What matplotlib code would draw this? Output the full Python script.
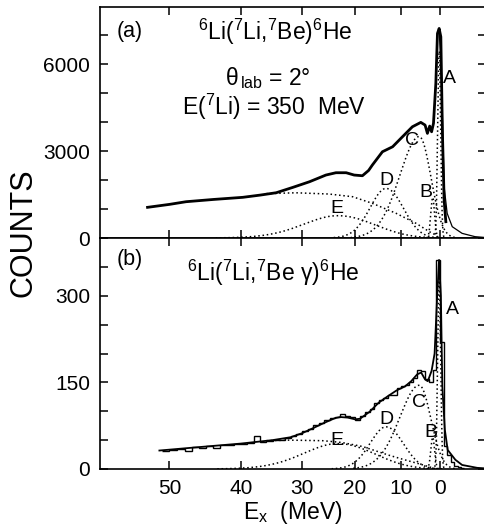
import numpy as np
import matplotlib
matplotlib.use("Agg")
import matplotlib.pyplot as plt
from matplotlib.ticker import MultipleLocator

plt.rcParams['font.family'] = ['Liberation Sans', 'DejaVu Sans']
plt.rcParams['mathtext.fontset'] = 'custom'
plt.rcParams['mathtext.rm'] = 'Liberation Sans'
plt.rcParams['mathtext.it'] = 'Liberation Sans:italic'
plt.rcParams['mathtext.bf'] = 'Liberation Sans:bold'

# ---- panel (a): inclusive spectrum (thick line)
top_E = [52.8, 50.0, 47.8, 44.0, 39.7, 37.0, 34.4, 31.6, 28.7, 25.7, 23.8, 21.8, 20.2,
         18.5, 17.2, 16.4, 14.2, 11.9, 9.6, 7.2, 5.1, 4.0, 3.4, 2.8, 2.3, 1.8, 1.17,
         0.73, 0.27, -0.19, -0.63, -1.1, -1.58]
top_counts = [1058, 1160, 1252, 1330, 1403, 1480, 1562, 1748, 1941, 2172, 2252, 2252,
              2172, 2148, 2330, 2517, 2976, 3148, 3493, 3838, 3989, 3896, 3610, 3862,
              3665, 3955, 5334, 7058, 7230, 6941, 3620, 1310, 562]

# fit curve, visible as thin line on the low-energy tail
top_fit_E = [0.27, -0.3, -0.7, -1.1, -1.95, -3.4, -6.3, -10.3, -13.9]
top_fit_counts = [7100, 6000, 3800, 1770, 850, 390, 160, 46, 15]

# broad background component (dotted)
top_bg_E = [36.0, 31.1, 25.1, 20.5, 16.4, 11.1, 6.3, 2.9, 1.17, 0.5]
top_bg_counts = [1530, 1560, 1517, 1424, 1196, 852, 507, 218, 103, 0]

# ---- panel (b): coincidence spectrum (histogram)
hist_edges = np.arange(51, -8, -1)
hist_counts = [32, 33, 34, 31, 38, 36, 39, 37, 41, 42, 43, 44, 45, 57, 47, 48, 50, 51,
               53, 58, 61, 65, 70, 76, 80, 84, 88, 90, 96, 91, 90, 84, 91, 98, 104, 114,
               120, 123, 128, 129, 140, 143, 146, 150, 158, 172, 170, 156, 150, 172, 362,
               220, 40, 24, 12, 6, 3, 1]

bot_fit_E = [51.3, 45, 40, 35, 32, 30, 28, 26, 24, 23, 21.5, 20, 19, 17, 15, 13, 11, 9,
             7.5, 6, 5, 4, 3.3, 2.3, 1.5, 0.8, 0.3, -0.2, -0.6, -1.3, -2.1, -4.3, -6.3,
             -11, -13.9]
bot_fit_counts = [32, 39, 44, 50, 55, 62, 71, 80, 88, 90, 89, 86, 87, 99, 115, 126, 136,
                  143, 152, 164, 167, 155, 152, 170, 200, 300, 362, 300, 143, 68, 33, 16,
                  7, 2, 1]

bot_bg_E = [36.0, 32.2, 26.3, 22.7, 18.5, 12.8, 9.6, 4.5, 2.1, 1.0]
bot_bg_counts = [49, 50, 49, 46, 39, 24, 17, 7, 2, 0]

# peak components A-E: centre (MeV), height, width on high-Ex side, width on low-Ex side
comp_names = ['A', 'B', 'C', 'D', 'E']
comp_center = [0.25, 2.0, 5.5, 13.4, 23.5]
comp_sig_hi = [0.4, 0.5, 4.8, 3.5, 6.3]
comp_sig_lo = [0.4, 0.5, 3.0, 4.0, 7.5]
top_heights = [6450, 1400, 3500, 1710, 770]
bot_heights = [330, 55, 145, 73, 44]


def component(c, h, s_hi, s_lo):
    e = np.linspace(c - 3.2 * s_lo, c + 3.2 * s_hi, 200)
    s = np.where(e > c, s_hi, s_lo)
    return e, h * np.exp(-0.5 * ((e - c) / s) ** 2)


k = 0.01484
fwd = lambda e: np.exp(k * np.asarray(e, dtype=float))
inv = lambda v: np.log(np.clip(v, 1e-9, None)) / k

W, H = 485, 525
fig = plt.figure(figsize=(W / 100, H / 100), dpi=100)
ax1 = fig.add_axes([100 / W, 1 - 238 / H, 386 / W, 231 / H])
ax2 = fig.add_axes([100 / W, 1 - 469 / H, 386 / W, 231 / H])

dot = dict(color='black', lw=1.1, linestyle=(0, (1, 1.8)))

for ax in (ax1, ax2):
    ax.set_xscale('function', functions=(fwd, inv))
    ax.set_xlim(58.5, -13.9)
    ax.set_xticks([50, 40, 30, 20, 10, 0])
    ax.tick_params(direction='in', length=6, width=1.1, top=True, right=True,
                   labelsize=15, pad=7, which='both')
    for sp in ax.spines.values():
        sp.set_linewidth(1.2)

# panel (a)
ax1.plot(top_bg_E, top_bg_counts, **dot)
for c, h, sh, sl in zip(comp_center, top_heights, comp_sig_hi, comp_sig_lo):
    ax1.plot(*component(c, h, sh, sl), **dot)
ax1.plot(top_fit_E, top_fit_counts, color='black', lw=0.9)
ax1.plot(top_E, top_counts, color='black', lw=2.0, solid_joinstyle='round')
ax1.set_ylim(0, 7970)
ax1.yaxis.set_major_locator(MultipleLocator(3000))
ax1.yaxis.set_minor_locator(MultipleLocator(1000))
ax1.tick_params(labelbottom=False)

top_lab = [(-2.5, 5517), (3.7, 1586), (7.25, 3379), (13.4, 2000), (23.7, 1034)]
for name, (x, y) in zip(comp_names, top_lab):
    ax1.text(x, y, name, fontsize=14, ha='center', va='center')

ax1.text(0.044, 0.892, '(a)', transform=ax1.transAxes, fontsize=15.5, va='center')
ax1.text(0.453, 0.892, r'$^{6}$Li($^{7}$Li,$^{7}$Be)$^{6}$He', transform=ax1.transAxes,
         fontsize=16.5, ha='center', va='center')
ax1.text(0.435, 0.693, r'θ$_{\,\mathrm{lab}}$ = 2°', transform=ax1.transAxes,
         fontsize=16.5, ha='center', va='center')
ax1.text(0.451, 0.567, r'E($^{7}$Li) = 350  MeV', transform=ax1.transAxes,
         fontsize=16.5, ha='center', va='center')

# panel (b)
ax2.plot(bot_bg_E, bot_bg_counts, **dot)
for c, h, sh, sl in zip(comp_center, bot_heights, comp_sig_hi, comp_sig_lo):
    ax2.plot(*component(c, h, sh, sl), **dot)
ax2.stairs(hist_counts[::-1], hist_edges[::-1], color='black', lw=1.0, baseline=None)
ax2.plot(bot_fit_E, bot_fit_counts, color='black', lw=1.3)
ax2.set_ylim(0, 400)
ax2.yaxis.set_major_locator(MultipleLocator(150))
ax2.yaxis.set_minor_locator(MultipleLocator(50))
ax2.set_xlabel(r'E$_{\mathrm{x}}$  (MeV)', fontsize=16.5, labelpad=1)

bot_lab = [(-3.4, 276), (2.4, 64), (5.5, 116), (13.4, 85), (23.7, 50)]
for name, (x, y) in zip(comp_names, bot_lab):
    ax2.text(x, y, name, fontsize=14, ha='center', va='center')

ax2.text(0.044, 0.905, '(b)', transform=ax2.transAxes, fontsize=15.5, va='center')
ax2.text(0.448, 0.848, r'$^{6}$Li($^{7}$Li,$^{7}$Be γ)$^{6}$He', transform=ax2.transAxes,
         fontsize=16.5, ha='center', va='center')

fig.text(24 / W, 1 - 233 / H, 'COUNTS', rotation=90, fontsize=22, ha='center', va='center')

fig.savefig('out.png', dpi=100)
